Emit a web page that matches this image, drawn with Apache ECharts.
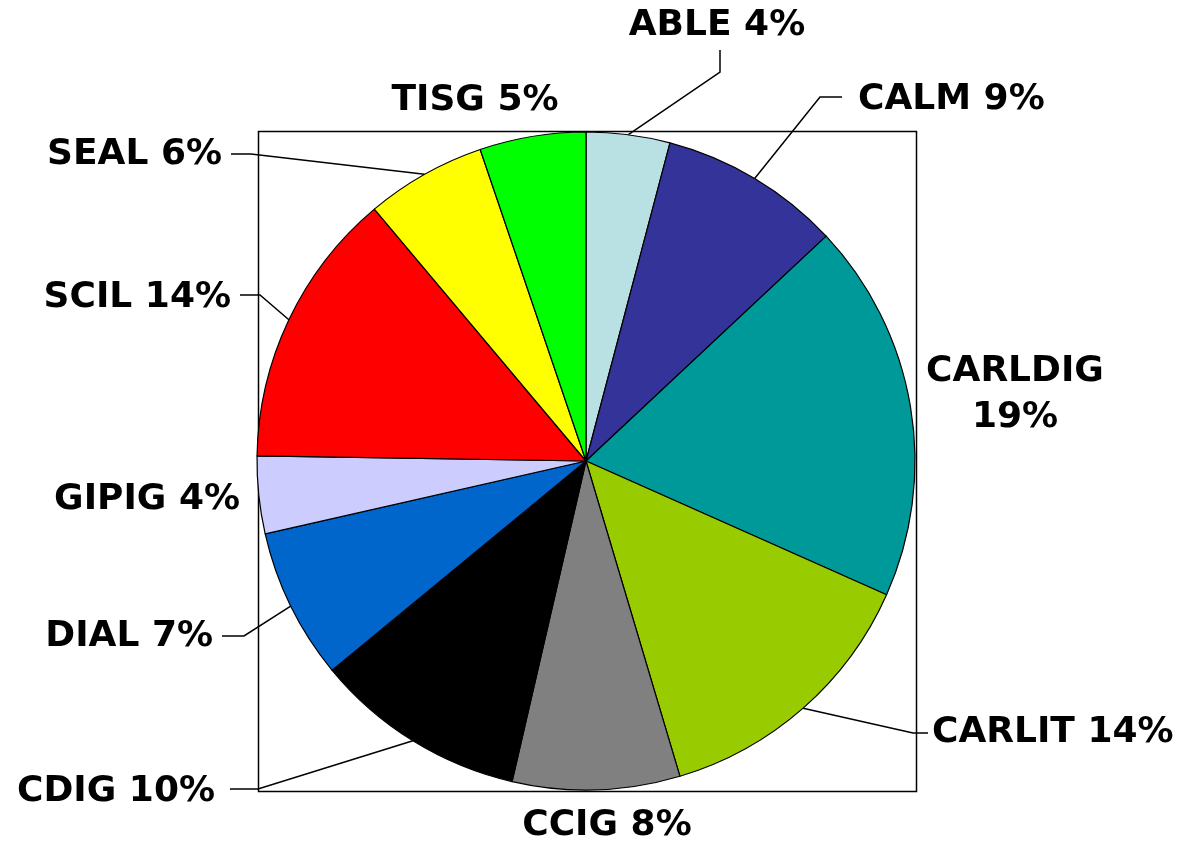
<!DOCTYPE html>
<html>
<head>
<meta charset="utf-8">
<script src="https://cdn.jsdelivr.net/npm/echarts@6/dist/echarts.min.js"></script>
<style>
html,body{margin:0;padding:0;background:#fff;}
#chart{width:1186px;height:842px;}
</style>
</head>
<body>
<div id="chart"></div>
<script>
// Data (in percent)
const categories = ['ABLE','CALM','CARLDIG','CARLIT','CCIG','CDIG','DIAL','GIPIG','SCIL','SEAL','TISG'];
const values = [4.1, 8.9, 18.6, 13.7, 8.2, 10.4, 7.4, 3.8, 13.6, 5.9, 5.2];
const colors = ['#B9E0E3','#333399','#009999','#99CC00','#808080','#000000','#0066CC','#CCCCFF','#FF0000','#FFFF00','#00FF00'];

const total = values.reduce((a, b) => a + b, 0);
const pct = v => Math.round(v / total * 100);

// Label placement (layout only, not data)
const labelPlace = {
  ABLE:    {x: 717, y: 26,  align: 'center', bend: [720, 72],  end: [720, 50]},
  CALM:    {x: 858, y: 100, align: 'left',   bend: [820, 97],  end: [842, 97]},
  CARLDIG: {x: 1015, y: 395, align: 'center'},
  CARLIT:  {x: 932, y: 733, align: 'left',   bend: [913, 733], end: [928, 733]},
  CCIG:    {x: 607, y: 826, align: 'center'},
  CDIG:    {x: 215, y: 792, align: 'right',  bend: [258, 789], end: [230, 789]},
  DIAL:    {x: 213, y: 637, align: 'right',  bend: [244, 636], end: [222, 636]},
  GIPIG:   {x: 240, y: 500, align: 'right'},
  SCIL:    {x: 231, y: 298, align: 'right',  bend: [260, 295], end: [240, 295]},
  SEAL:    {x: 222, y: 155, align: 'right',  bend: [251, 154], end: [231, 154]},
  TISG:    {x: 475, y: 101, align: 'center'}
};

const chart = echarts.init(document.getElementById('chart'), null, {renderer: 'canvas'});

const option = {
  backgroundColor: '#ffffff',
  animation: false,
  graphic: [{
    type: 'rect',
    z: 0,
    shape: {x: 258.5, y: 131.5, width: 658, height: 660},
    style: {fill: 'none', stroke: '#000', lineWidth: 1.5}
  }],
  series: [{
    type: 'pie',
    center: [586, 461],
    radius: 329,
    startAngle: 90,
    clockwise: true,
    avoidLabelOverlap: false,
    z: 2,
    itemStyle: {borderColor: '#000', borderWidth: 1.2},
    label: {
      show: true,
      position: 'outside',
      color: '#000',
      fontFamily: 'DejaVu Sans',
      fontWeight: 'bold',
      fontSize: 36,
      lineHeight: 46,
      formatter: p => p.name === 'CARLDIG'
        ? p.name + '\n' + pct(p.value) + '%'
        : p.name + ' ' + pct(p.value) + '%'
    },
    labelLine: {show: true, length: 20, length2: 20, lineStyle: {color: '#000', width: 1.5}},
    labelLayout: function (params) {
      const name = categories[params.dataIndex];
      const lp = labelPlace[name];
      const out = {x: lp.x, y: lp.y, align: lp.align, verticalAlign: 'middle'};
      if (lp.bend && params.labelLinePoints) {
        out.labelLinePoints = [params.labelLinePoints[0], lp.bend, lp.end];
      }
      return out;
    },
    emphasis: {disabled: true},
    data: categories.map((c, i) => ({
      name: c,
      value: values[i],
      itemStyle: {color: colors[i]},
      labelLine: {show: !!labelPlace[c].bend}
    }))
  }]
};

chart.setOption(option);
</script>
</body>
</html>
